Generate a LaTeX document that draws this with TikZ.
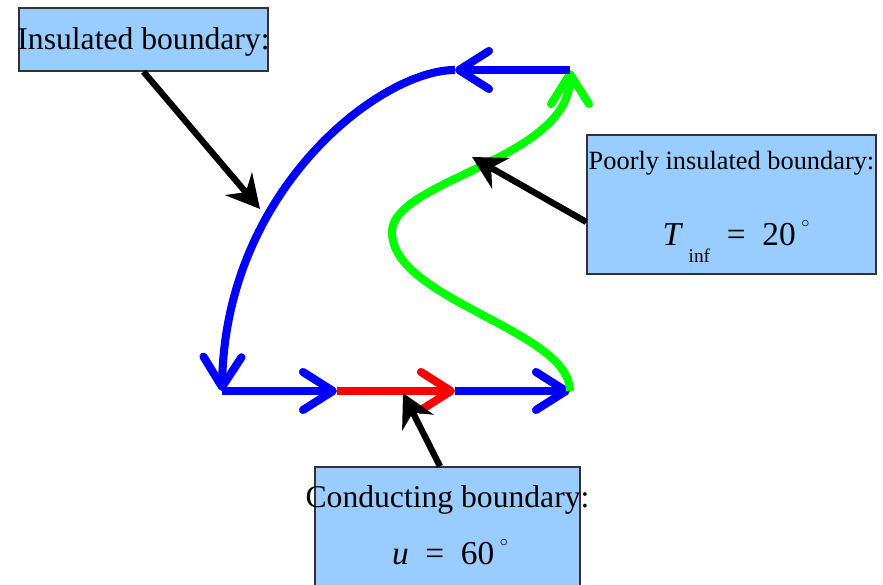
\documentclass[tikz,border=0pt]{standalone}
\usepackage{fontspec}
\setmainfont{Liberation Serif}
\usetikzlibrary{arrows.meta}
\definecolor{boxblue}{RGB}{153,204,255}
\definecolor{lgreen}{RGB}{0,255,0}
\begin{document}
\begin{tikzpicture}[
    bline/.style={line width=4.6pt, -{Straight Barb[length=0.6cm, width=0.76cm, round]}},
    pointer/.style={line width=3.6pt, black, -{Stealth[length=0.66cm, width=0.7cm, inset=0.22cm]}},
    infobox/.style={draw=black!80, line width=0.8pt, fill=boxblue, inner sep=0pt}
  ]
  % 画布
  \clip (0,0) rectangle (17.66,11.7);

  % 边界上的点
  \coordinate (a) at (4.44,3.88);
  \coordinate (b) at (6.74,3.88);
  \coordinate (c) at (9.10,3.88);
  \coordinate (d) at (11.40,3.88);
  \coordinate (e) at (11.40,10.30);
  \coordinate (f) at (9.10,10.30);

  % 下边界
  \draw[bline, blue] (a) -- (b);
  \draw[bline, red] (b) -- (c);
  \draw[bline, blue] (c) -- (d);

  % 右边界 (S 形)
  \draw[bline, lgreen] (d) .. controls (11.40,5.10) and (7.84,5.70) .. (7.84,7.06)
    .. controls (7.84,8.10) and (11.40,8.50) .. (e);

  % 上边界与左边界
  \draw[bline, blue] (e) -- (f);
  \draw[bline, blue] (f) .. controls (7.60,10.30) and (4.50,7.90) .. (a);

  % 指向边界的点
  \coordinate (ptins) at (5.20,7.52);
  \coordinate (ptpoor) at (9.44,8.56);
  \coordinate (ptcond) at (8.06,3.84);

  % 说明框
  \node[infobox, minimum width=4.98cm, minimum height=1.26cm] (insbox) at (2.87,10.91) {};
  \node[font=\fontsize{18}{20}\selectfont] (instext) at (2.87,10.86) {Insulated boundary:};

  \node[infobox, minimum width=5.78cm, minimum height=2.78cm] (poorbox) at (14.63,7.61) {};
  \node[font=\fontsize{15}{17}\selectfont] (poortext) at (14.63,8.44) {Poorly insulated boundary:};
  \node[font=\fontsize{19}{21}\selectfont] (poormath) at (14.72,6.87)
    {\textit{T}\,\raisebox{-0.5em}{\fontsize{11}{11}\selectfont inf}\enspace=\enspace20\,\raisebox{0.55em}{\fontsize{9}{9}\selectfont$\circ$}};

  \node[infobox, minimum width=5.3cm, minimum height=2.76cm] (condbox) at (8.95,0.98) {};
  \node[font=\fontsize{18}{20}\selectfont] (condtext) at (8.95,1.70) {Conducting boundary:};
  \node[font=\fontsize{19}{21}\selectfont] (condmath) at (9.0,0.66)
    {\textit{u}\enspace=\enspace60\,\raisebox{0.55em}{\fontsize{9}{9}\selectfont$\circ$}};

  % 指示箭头
  \draw[pointer] (insbox.south) -- (ptins);
  \draw[pointer] ([yshift=-0.35cm]poorbox.west) -- (ptpoor);
  \draw[pointer] ([xshift=-0.15cm]condbox.north) -- (ptcond);
\end{tikzpicture}
\end{document}
